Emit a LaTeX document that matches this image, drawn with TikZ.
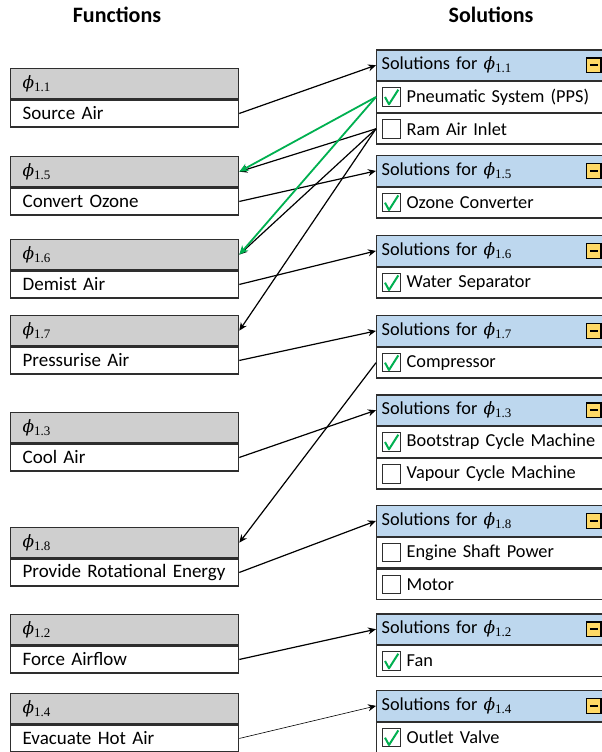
\documentclass[tikz,border=0pt]{standalone}
\usepackage{fontspec}
\setmainfont{Carlito}
\newfontfamily\phifont{DejaVu Serif}
\newfontfamily\subfont{Liberation Serif}
\newcommand{\phisub}[1]{{\phifont\itshape\fontsize{17}{20}\selectfont ϕ}\raisebox{-3pt}{\subfont\fontsize{13}{14}\selectfont #1}}
\usetikzlibrary{arrows.meta}
\definecolor{fgray}{HTML}{CFCFCF}
\definecolor{sblue}{HTML}{BDD7EE}
\definecolor{okgreen}{HTML}{00B050}
\definecolor{btnyellow}{HTML}{FFD966}
\definecolor{edge}{HTML}{2E2E2E}
\begin{document}
\begin{tikzpicture}[x=1pt,y=-1pt,
  title/.style={font=\fontsize{22}{26}\selectfont\bfseries, inner sep=0pt},
  fbox/.style={draw=edge, line width=1.3pt, anchor=north west, minimum height=#1,
    text width=203.5pt, inner xsep=12.5pt, inner ysep=0pt, align=left,
    font=\fontsize{19}{22}\selectfont},
  fhead/.style={fbox=30pt, fill=fgray},
  frow/.style={fbox=27pt, fill=white},
  sbox/.style={draw=edge, line width=1.3pt, anchor=north west, minimum height=#1,
    text width=250pt, inner xsep=5pt, inner ysep=0pt, align=left,
    font=\fontsize{18.3}{22}\selectfont},
  shead/.style={sbox=30.5pt, fill=sblue},
  srow/.style={sbox=30.5pt, fill=white, text width=200pt, inner xsep=30pt},
  cbox/.style={draw=edge, line width=1pt, fill=white, minimum size=18.5pt, inner sep=0pt},
  cboxok/.style={cbox, path picture={\draw[okgreen, line width=2pt, line join=round]
    ([shift={(-6.3pt,0pt)}]path picture bounding box.center) --
    ([shift={(-2.3pt,-7.3pt)}]path picture bounding box.center) --
    ([shift={(7pt,7.3pt)}]path picture bounding box.center);}},
  btn/.style={draw=black, line width=1.2pt, fill=btnyellow, minimum size=14.5pt, inner sep=0pt,
    path picture={\draw[line width=2.2pt]
      ([xshift=-4pt]path picture bounding box.center) --
      ([xshift=4pt]path picture bounding box.center);}},
  wire/.style={draw=black, line width=1.2pt, -{Stealth[length=8pt,width=7pt]}},
  gwire/.style={draw=okgreen, line width=1.8pt, -{Stealth[length=9pt,width=8pt]}},
  thinwire/.style={draw=black, line width=0.6pt, -{Stealth[length=8pt,width=7pt]}}
]
\useasboundingbox (0,0) rectangle (602,752);
\clip (0,0) rectangle (602,752);

% titles
\node[title] (tf) at (117,15) {Functions};
\node[title] (ts) at (491,15) {Solutions};

% function boxes
\node[fhead] (f11h) at (9.5,68) {\phisub{1.1}};
\node[frow]  (f11r) at (f11h.south west) {Source Air};
\node[fhead] (f15h) at (9.5,156) {\phisub{1.5}};
\node[frow]  (f15r) at (f15h.south west) {Convert Ozone};
\node[fhead] (f16h) at (9.5,239) {\phisub{1.6}};
\node[frow]  (f16r) at (f16h.south west) {Demist Air};
\node[fhead] (f17h) at (9.5,315) {\phisub{1.7}};
\node[frow]  (f17r) at (f17h.south west) {Pressurise Air};
\node[fhead] (f13h) at (9.5,412) {\phisub{1.3}};
\node[frow]  (f13r) at (f13h.south west) {Cool Air};
\node[fhead] (f18h) at (9.5,527) {\phisub{1.8}};
\node[frow]  (f18r) at (f18h.south west) {Provide Rotational Energy};
\node[fhead] (f12h) at (9.5,614) {\phisub{1.2}};
\node[frow]  (f12r) at (f12h.south west) {Force Airflow};
\node[fhead] (f14h) at (9.5,693) {\phisub{1.4}};
\node[frow]  (f14r) at (f14h.south west) {Evacuate Hot Air};

% solution boxes
\node[shead] (s11h) at (376,49.3) {Solutions for \phisub{1.1}};
\node[srow]  (s11a) at (s11h.south west) {Pneumatic System (PPS)};
\node[srow]  (s11b) at (s11a.south west) {Ram Air Inlet};
\node[btn]   (b11)  at ([xshift=-43.5pt]s11h.east) {};
\node[cboxok] (c11a) at ([xshift=15.3pt]s11a.west) {};
\node[cbox]   (c11b) at ([xshift=15.3pt]s11b.west) {};

\node[shead] (s15h) at (376,155) {Solutions for \phisub{1.5}};
\node[srow]  (s15a) at (s15h.south west) {Ozone Converter};
\node[btn]   (b15)  at ([xshift=-43.5pt]s15h.east) {};
\node[cboxok] (c15a) at ([xshift=15.3pt]s15a.west) {};

\node[shead] (s16h) at (376,235) {Solutions for \phisub{1.6}};
\node[srow]  (s16a) at (s16h.south west) {Water Separator};
\node[btn]   (b16)  at ([xshift=-43.5pt]s16h.east) {};
\node[cboxok] (c16a) at ([xshift=15.3pt]s16a.west) {};

\node[shead] (s17h) at (376,315) {Solutions for \phisub{1.7}};
\node[srow]  (s17a) at (s17h.south west) {Compressor};
\node[btn]   (b17)  at ([xshift=-43.5pt]s17h.east) {};
\node[cboxok] (c17a) at ([xshift=15.3pt]s17a.west) {};

\node[shead] (s13h) at (376,394.3) {Solutions for \phisub{1.3}};
\node[srow]  (s13a) at (s13h.south west) {Bootstrap Cycle Machine};
\node[srow]  (s13b) at (s13a.south west) {Vapour Cycle Machine};
\node[btn]   (b13)  at ([xshift=-43.5pt]s13h.east) {};
\node[cboxok] (c13a) at ([xshift=15.3pt]s13a.west) {};
\node[cbox]   (c13b) at ([xshift=15.3pt]s13b.west) {};

\node[shead] (s18h) at (376,505) {Solutions for \phisub{1.8}};
\node[srow]  (s18a) at (s18h.south west) {Engine Shaft Power};
\node[srow]  (s18b) at (s18a.south west) {Motor};
\node[btn]   (b18)  at ([xshift=-43.5pt]s18h.east) {};
\node[cbox]  (c18a) at ([xshift=15.3pt]s18a.west) {};
\node[cbox]  (c18b) at ([xshift=15.3pt]s18b.west) {};

\node[shead] (s12h) at (376,613.3) {Solutions for \phisub{1.2}};
\node[srow]  (s12a) at (s12h.south west) {Fan};
\node[btn]   (b12)  at ([xshift=-43.5pt]s12h.east) {};
\node[cboxok] (c12a) at ([xshift=15.3pt]s12a.west) {};

\node[shead] (s14h) at (376,690) {Solutions for \phisub{1.4}};
\node[srow]  (s14a) at (s14h.south west) {Outlet Valve};
\node[btn]   (b14)  at ([xshift=-43.5pt]s14h.east) {};
\node[cboxok] (c14a) at ([xshift=15.3pt]s14a.west) {};

% connectors function -> solutions
\draw[wire] (f11r.east) -- (s11h.west);
\draw[wire] (f15r.east) -- (s15h.west);
\draw[wire] (f16r.east) -- (s16h.west);
\draw[wire] (f17r.east) -- (s17h.west);
\draw[wire] (f13r.east) -- (s13h.west);
\draw[wire] (f18r.east) -- (s18h.west);
\draw[wire] (f12r.east) -- (s12h.west);
\draw[thinwire] (f14r.east) -- (s14h.west);

% dependency connectors
\draw[wire] (s11b.west) -- (f15h.east);
\draw[wire] (s11b.west) -- (f16h.east);
\draw[wire] (s11b.west) -- (f17h.east);
\draw[wire] (s17a.west) -- (f18h.east);
\draw[gwire] (s11a.west) -- (f15h.east);
\draw[gwire] (s11a.west) -- (f16h.east);
\end{tikzpicture}
\end{document}
